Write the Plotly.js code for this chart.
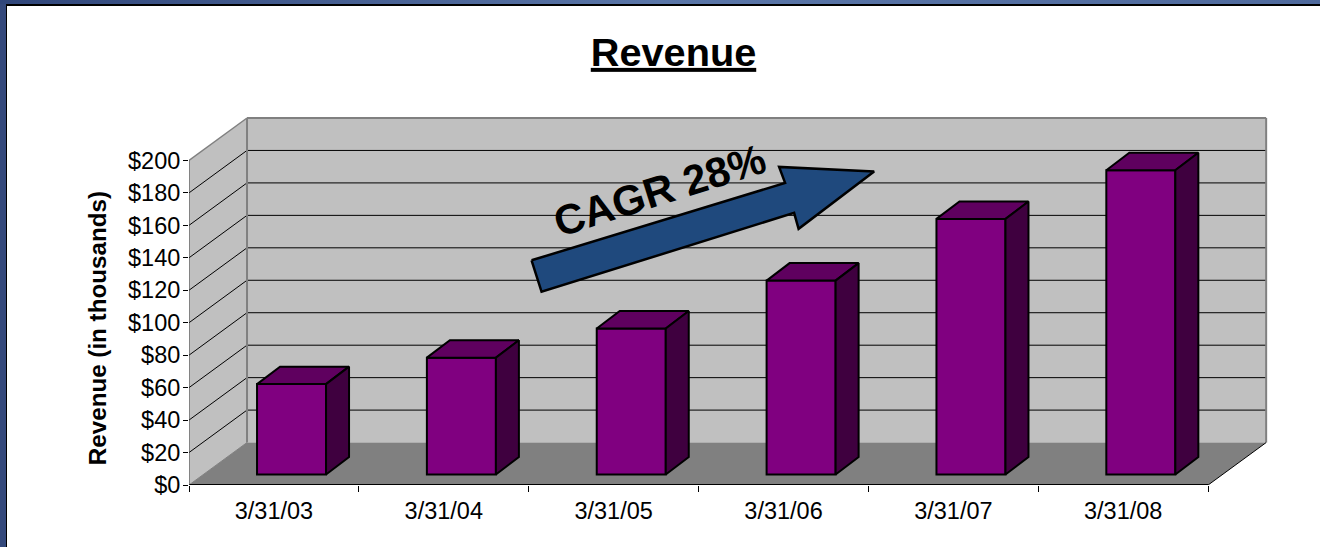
<!DOCTYPE html>
<html>
<head>
<meta charset="utf-8">
<script src="https://cdn.plot.ly/plotly-3.0.1.min.js"></script>
<style>
html,body{margin:0;padding:0;width:1320px;height:547px;overflow:hidden;background:#34497c;}
#band{position:absolute;left:0;top:0;width:1320px;height:4px;background:linear-gradient(to right,#30467a,#5a76a8 50%,#4f6a9d);}
#panel{position:absolute;left:6px;top:4px;width:1314px;height:543px;background:#fff;border-left:1px solid #000;border-top:2px solid #000;box-sizing:border-box;}
#chart{position:absolute;left:0;top:0;width:1320px;height:547px;}
</style>
</head>
<body>
<div id="band"></div>
<div id="panel"></div>
<div id="chart"></div>
<script>
// ---- data ----
const categories = ['3/31/03','3/31/04','3/31/05','3/31/06','3/31/07','3/31/08'];
const revenue = [55.7, 72, 90, 119.5, 157.5, 187.5];
const tickValues = [0,20,40,60,80,100,120,140,160,180,200];
const tickLabels = ['$0','$20','$40','$60','$80','$100','$120','$140','$160','$180','$200'];
const titleText = 'Revenue';
const yTitleText = 'Revenue (in thousands)';
const arrowLabel = 'CAGR 28%';

// ---- 3D look (in axis units) ----
const pxX = 169.83, pxY = 1.625;           // pixels per axis unit
const wallDX = 58/pxX, wallDY = 42.5/pxY;  // depth of the box
const barDX = 23/pxX, barDY = 17.5/pxY;    // depth of a bar
const barShiftX = 17.6/pxX, barShiftY = 10.5/pxY; // offset of bar front from front plane
const barW = 69/pxX;
const xMin = -0.5, xMax = 5.5, yMax = 200;
const rangeX = [xMin, 5.87], rangeY = [0, 228];

const idx = categories.map((_,i)=>i);
const poly = pts => 'M' + pts.map(p=>p[0]+' '+p[1]).join('L') + 'Z';
const seg = (a,b) => 'M'+a[0]+' '+a[1]+'L'+b[0]+' '+b[1];
const shape = (path,fill,lc,lw) => ({type:'path',xref:'x',yref:'y',layer:'below',path,
  fillcolor:fill||'rgba(0,0,0,0)',line:{color:lc||'rgba(0,0,0,0)',width:lw||0}});

const bx = xMin+wallDX, bxr = xMax+wallDX;
const shapes = [
  shape(poly([[xMin,0],[bx,wallDY],[bx,yMax+wallDY],[xMin,yMax]]),'#c0c0c0'),
  shape(poly([[bx,wallDY],[bxr,wallDY],[bxr,yMax+wallDY],[bx,yMax+wallDY]]),'#c0c0c0'),
  shape(poly([[xMin,0],[xMax,0],[bxr,wallDY],[bx,wallDY]]),'#808080')
];
tickValues.filter(v=>v>0 && v<yMax).forEach(v=>{
  shapes.push(shape(seg([xMin,v],[bx,v+wallDY]),null,'#000',1));
  shapes.push(shape(seg([bx,v+wallDY],[bxr,v+wallDY]),null,'#000',1));
});
shapes.push(shape(seg([xMin,yMax],[bx,yMax+wallDY]),null,'#808080',1.5));
shapes.push(shape(seg([bx,yMax+wallDY],[bxr,yMax+wallDY]),null,'#808080',2));
shapes.push(shape(seg([bx,wallDY],[bx,yMax+wallDY]),null,'#808080',2));
shapes.push(shape(seg([bxr,wallDY],[bxr,yMax+wallDY]),null,'#808080',2));
shapes.push(shape(seg([xMin,0],[bx,wallDY]),null,'#808080',1));
shapes.push(shape(seg([xMax,0],[bxr,wallDY]),null,'#000',1));

// bar faces
const fx = idx.map(i=>i+barShiftX);
const faceTrace = (pts,fill) => ({type:'scatter',mode:'lines',x:pts.map(p=>p[0]),y:pts.map(p=>p[1]),
  fill:'toself',fillcolor:fill,line:{color:'#000',width:2},hoverinfo:'skip',showlegend:false});
const faces = [];
idx.forEach(i=>{
  const l=fx[i]-barW/2, r=fx[i]+barW/2, b=barShiftY, t=barShiftY+revenue[i];
  faces.push(faceTrace([[l,t],[r,t],[r+barDX,t+barDY],[l+barDX,t+barDY],[l,t]],'#5f005f'));
  faces.push(faceTrace([[r,b],[r+barDX,b+barDY],[r+barDX,t+barDY],[r,t],[r,b]],'#3f003f'));
});

const bars = {type:'bar',x:fx,y:revenue,base:barShiftY,width:barW,
  marker:{color:'#800080',line:{color:'#000',width:2}},showlegend:false,hoverinfo:'skip'};

const axisLines = [
  {type:'scatter',mode:'lines',x:[xMin,xMax],y:[0,0],line:{color:'#000',width:2},cliponaxis:false,showlegend:false,hoverinfo:'skip'},
  {type:'scatter',mode:'lines',x:[xMin,xMin],y:[0,yMax],line:{color:'#444',width:1},cliponaxis:false,showlegend:false,hoverinfo:'skip'}
];

// arrow, pixel positions converted into axis units
const arrowPx = [[531.5,260],[541.5,291.5],[794,212.5],[798.5,228.5],[874,171],[779,166.5],[785,182.5],[531.5,260]];
const toX = p => xMin+(p-189)/pxX, toY = p => (485-p)/pxY;
const arrow = {type:'scatter',mode:'lines',x:arrowPx.map(p=>toX(p[0])),y:arrowPx.map(p=>toY(p[1])),
  fill:'toself',fillcolor:'#1f497d',line:{color:'#000',width:2.5},showlegend:false,hoverinfo:'skip'};

const font = 'Liberation Sans, Arial, sans-serif';
const plotW = (rangeX[1]-rangeX[0])*pxX, plotH = rangeY[1]*pxY;
const layout = {
  width:1320,height:547,
  margin:{l:189,r:1320-189-plotW,t:485-plotH,b:547-485,pad:0},
  paper_bgcolor:'rgba(0,0,0,0)',plot_bgcolor:'rgba(0,0,0,0)',
  showlegend:false,
  font:{family:font,color:'#000'},
  title:{text:'<b><u>'+titleText+'</u></b>',font:{family:font,size:39.7,color:'#000'},
    x:673.5/1320,xanchor:'center',y:1-52/547,yanchor:'middle'},
  xaxis:{type:'linear',range:rangeX,tickmode:'array',tickvals:idx,ticktext:categories,ticks:'',
    minor:{ticks:'outside',tick0:-0.5,dtick:1,ticklen:6,tickcolor:'#000',tickwidth:1,showgrid:false},
    showgrid:false,zeroline:false,showline:false,tickfont:{family:font,size:23.5,color:'#000'},ticklabelstandoff:9},
  yaxis:{type:'linear',range:rangeY,tickmode:'array',tickvals:tickValues,ticktext:tickLabels,
    ticks:'outside',ticklen:5,tickcolor:'#000',tickwidth:1,showgrid:false,zeroline:false,showline:false,
    tickfont:{family:font,size:23.5,color:'#000'},ticklabelstandoff:-2},
  shapes,
  annotations:[
    {text:'<b>'+yTitleText+'</b>',xref:'paper',yref:'paper',x:(97-189)/plotW,y:(485-328)/plotH,
     xanchor:'center',yanchor:'middle',textangle:-90,showarrow:false,font:{family:font,size:24.2,color:'#000'}},
    {text:'<b>'+arrowLabel+'</b>',xref:'x',yref:'y',x:toX(659),y:toY(190),xanchor:'center',yanchor:'middle',
     textangle:-17.5,showarrow:false,font:{family:font,size:42,color:'#000'}}
  ]
};
Plotly.newPlot('chart',[bars,...faces,arrow,...axisLines],layout,{displayModeBar:false,staticPlot:true});
</script>
</body>
</html>
